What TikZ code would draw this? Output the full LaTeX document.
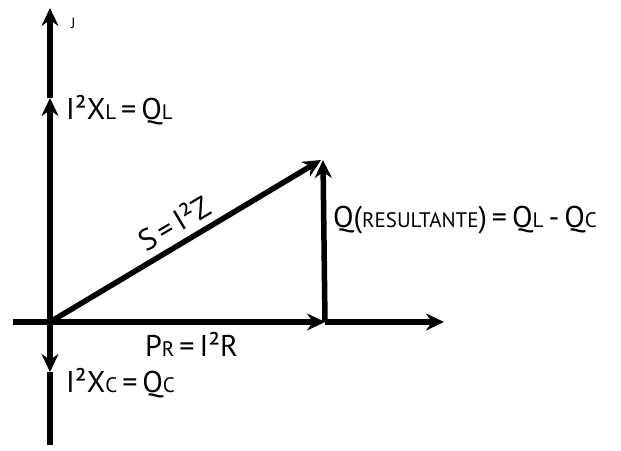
\documentclass[tikz,border=0pt]{standalone}
\usepackage{fontspec}
\setmainfont{PT Sans}
\usetikzlibrary{arrows.meta}
\newcommand\smc[1]{{\fontsize{21}{21}\selectfont #1}}
\tikzset{
  vec/.style={line width=5.5pt,-{Stealth[length=18pt,width=17pt,inset=6pt]}},
  axis/.style={line width=5.5pt},
  lbl/.style={font=\fontsize{30}{31}\selectfont, inner sep=0pt, anchor=base west},
}
\begin{document}
\begin{tikzpicture}[x=1pt,y=-1pt]
\useasboundingbox (0,0) rectangle (621,450);
\coordinate (O) at (50,322);
\coordinate (Ytop) at (50,8);
\coordinate (YL) at (50,98);
\coordinate (YC) at (50,372);
\coordinate (Ybot) at (50,445);
\coordinate (Xleft) at (13,322);
\coordinate (XR) at (325,322);
\coordinate (Xend) at (444,322);
\coordinate (Stip) at (321,160);
\coordinate (Qtip) at (323,160);
% axes
\draw[vec] (O) -- (YL);
\draw[vec] (YL) -- (Ytop);
\draw[vec] (O) -- (YC);
\draw[axis] (YC) -- (Ybot);
\draw[vec] (Xleft) -- (XR);
\draw[vec] (XR) -- (Xend);
% vectors
\draw[vec] (O) -- (Stip);
\draw[vec] (XR) -- (Qtip);
% labels
\node[lbl,font=\fontsize{15}{15}\selectfont] (j) at (71,28) {J};
\node[lbl] (ql) at (66,119) {I²X\smc{L}\,=\,Q\smc{L}};
\node[lbl,rotate=30.8,anchor=base] (s) at (180,233) {S\,=\,I²Z};
\node[lbl] (q) at (333,227) {Q(\smc{RESULTANTE})\,=\,Q\smc{L}\,-\,Q\smc{C}};
\node[lbl] (pr) at (145,356) {P\smc{R}\,=\,I²R};
\node[lbl] (qc) at (66,392) {I²X\smc{C}\,=\,Q\smc{C}};
\end{tikzpicture}
\end{document}
